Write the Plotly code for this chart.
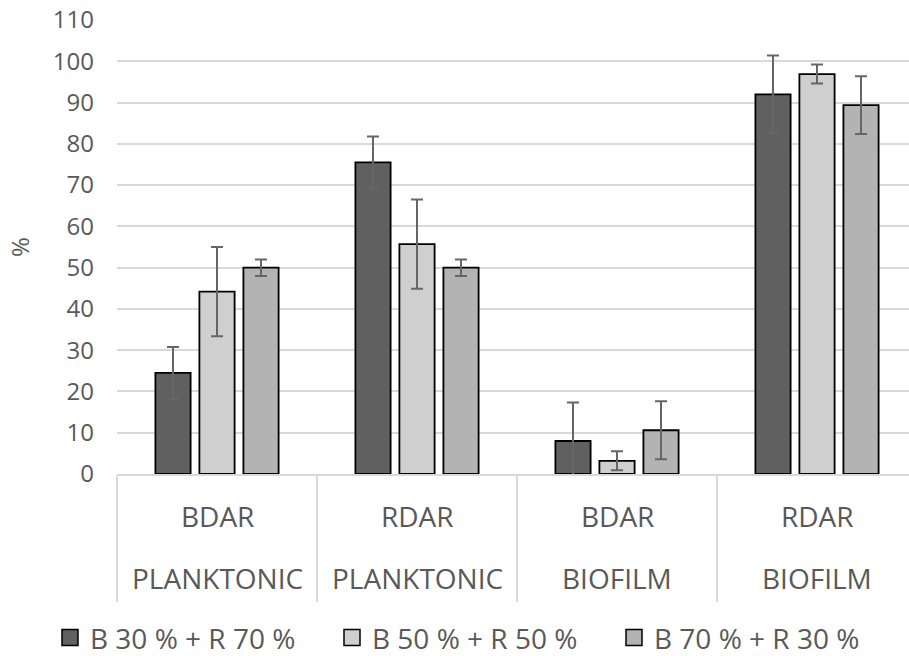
import plotly.graph_objects as go

categories = ["BDAR PLANKTONIC", "RDAR PLANKTONIC", "BDAR BIOFILM", "RDAR BIOFILM"]
label_top = ["BDAR", "RDAR", "BDAR", "RDAR"]
label_bottom = ["PLANKTONIC", "PLANKTONIC", "BIOFILM", "BIOFILM"]

series_names = ["B 30 % + R 70 %", "B 50 % + R 50 %", "B 70 % + R 30 %"]
s1_values = [24.5, 75.5, 8.0, 92.0]
s1_errors = [6.3, 6.3, 9.3, 9.4]
s2_values = [44.2, 55.7, 3.2, 96.9]
s2_errors = [10.8, 10.8, 2.3, 2.3]
s3_values = [50.0, 50.0, 10.6, 89.4]
s3_errors = [2.0, 2.0, 7.0, 7.0]

colors = ["#606060", "#d0cfd0", "#b3b3b3"]
TEXT = "#595959"
FONT = "Open Sans"

fig = go.Figure()
for name, vals, errs, col in zip(series_names, [s1_values, s2_values, s3_values],
                                 [s1_errors, s2_errors, s3_errors], colors):
    fig.add_trace(go.Bar(
        x=categories, y=vals, name=name, showlegend=False,
        marker=dict(color=col, line=dict(color="#000000", width=1.8)),
        error_y=dict(type="data", array=errs, visible=True,
                     color="#666666", thickness=2, width=6),
    ))
    fig.add_trace(go.Scatter(
        x=[None], y=[None], mode="markers", name=name,
        marker=dict(symbol="square", size=16, color=col,
                    line=dict(color="#000000", width=1.5)),
    ))

for c, t, b in zip(categories, label_top, label_bottom):
    fig.add_annotation(x=c, y=0, xref="x", yref="paper", text=t, showarrow=False,
                       yanchor="middle", yshift=-42, font=dict(size=28, color=TEXT, family=FONT))
    fig.add_annotation(x=c, y=0, xref="x", yref="paper", text=b, showarrow=False,
                       yanchor="middle", yshift=-104, font=dict(size=28, color=TEXT, family=FONT))

fig.update_layout(
    width=909, height=656,
    margin=dict(l=117, r=0, t=20, b=182, autoexpand=False),
    plot_bgcolor="white", paper_bgcolor="white",
    font=dict(family=FONT, color=TEXT, size=24),
    barmode="group", bargap=0.34, bargroupgap=0.2,
    legend=dict(orientation="h", x=-0.0846, y=-0.361, xanchor="left", yanchor="middle",
                font=dict(size=28, color=TEXT, family=FONT), entrywidth=237,
                bgcolor="rgba(0,0,0,0)"),
)
fig.update_xaxes(
    type="category", range=[-0.5, 3.46], showticklabels=False, automargin=False,
    ticks="outside", tickson="boundaries", ticklen=126, tickcolor="#d9d9d9", tickwidth=2,
    showline=True, linecolor="#d9d9d9", linewidth=2, showgrid=False, zeroline=False,
)
fig.update_yaxes(
    range=[0, 110.001], dtick=10, tick0=0, showgrid=True, gridcolor="#d9d9d9", gridwidth=2,
    zeroline=False, showline=False, ticks="", ticklabelstandoff=22, automargin=False,
    ticklabeloverflow="allow",
    tickfont=dict(size=24, color=TEXT, family=FONT),
    title=dict(text="%", font=dict(size=24, color=TEXT, family=FONT), standoff=16),
)

fig.write_html("out.html", config={"displayModeBar": False},
               post_script="document.body.style.margin='0';document.body.style.overflow='hidden';")
